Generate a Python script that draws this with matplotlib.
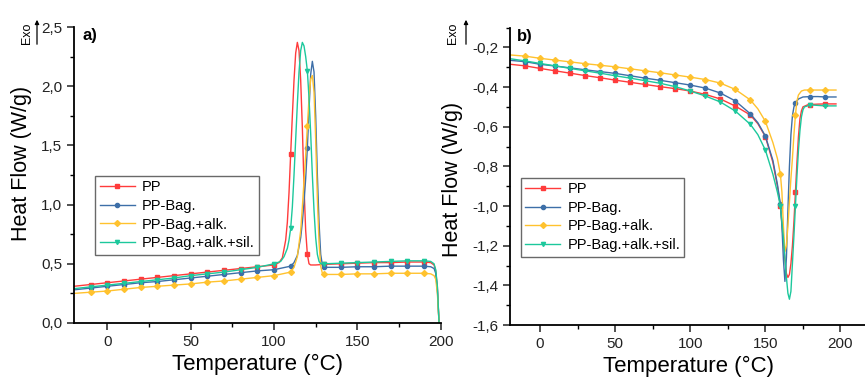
import matplotlib
matplotlib.use("Agg")
import matplotlib.pyplot as plt
from matplotlib.ticker import MultipleLocator, FuncFormatter

plt.rcParams['font.family'] = ['Liberation Sans', 'DejaVu Sans']

etiquetas = ["PP", "PP-Bag.", "PP-Bag.+alk.", "PP-Bag.+alk.+sil."]
colores = ["#ff3b3b", "#3d6fa8", "#ffc22e", "#1cc89c"]
marcadores = ["s", "o", "D", "v"]

# a) enfriamiento (cristalizacion)
t_pp_a = [-20, -10, 0, 10, 20, 30, 40, 50, 60, 70, 80, 90, 100, 103, 105, 107, 108, 109, 110, 111,
          112, 113, 114, 115, 116, 117, 118, 119, 120, 121, 122, 125, 130, 140, 150, 160, 170, 180,
          190, 194, 196, 197, 198, 199]
hf_pp_a = [0.31, 0.325, 0.34, 0.355, 0.37, 0.385, 0.40, 0.415, 0.43, 0.445, 0.46, 0.475, 0.49, 0.51,
           0.55, 0.70, 0.85, 1.10, 1.43, 1.75, 2.05, 2.28, 2.37, 2.30, 2.05, 1.65, 1.15, 0.78, 0.58,
           0.50, 0.49, 0.49, 0.495, 0.50, 0.505, 0.51, 0.51, 0.515, 0.515, 0.51, 0.49, 0.44, 0.30, 0.0]

t_bag_a = [-20, -10, 0, 10, 20, 30, 40, 50, 60, 70, 80, 90, 100, 110, 112, 114, 116, 117, 118, 119,
           120, 121, 122, 123, 124, 125, 126, 127, 128, 129, 130, 140, 150, 160, 170, 180, 190, 194,
           196, 197, 198, 199]
hf_bag_a = [0.28, 0.295, 0.31, 0.325, 0.34, 0.35, 0.365, 0.38, 0.395, 0.41, 0.425, 0.44, 0.45, 0.48,
            0.51, 0.57, 0.72, 0.85, 1.02, 1.22, 1.48, 1.80, 2.10, 2.21, 2.12, 1.75, 1.25, 0.85, 0.58,
            0.49, 0.47, 0.47, 0.475, 0.475, 0.48, 0.48, 0.48, 0.475, 0.46, 0.42, 0.28, 0.0]

t_alk_a = [-20, -10, 0, 10, 20, 30, 40, 50, 60, 70, 80, 90, 100, 110, 112, 114, 116, 117, 118, 119,
           120, 121, 122, 123, 124, 125, 126, 127, 128, 129, 130, 140, 150, 160, 170, 180, 190, 194,
           196, 197, 198, 199]
hf_alk_a = [0.25, 0.26, 0.27, 0.285, 0.30, 0.31, 0.32, 0.33, 0.345, 0.355, 0.37, 0.385, 0.40, 0.43,
            0.47, 0.56, 0.78, 0.98, 1.20, 1.42, 1.66, 1.90, 2.06, 2.09, 1.95, 1.55, 1.05, 0.68, 0.48,
            0.42, 0.41, 0.41, 0.415, 0.415, 0.42, 0.42, 0.42, 0.415, 0.40, 0.37, 0.25, 0.0]

t_sil_a = [-20, -10, 0, 10, 20, 30, 40, 50, 60, 70, 80, 90, 100, 104, 106, 108, 109, 110, 111, 112,
           113, 114, 115, 116, 117, 118, 119, 120, 121, 122, 123, 124, 125, 126, 127, 128, 130, 140,
           150, 160, 170, 180, 190, 194, 196, 197, 198, 199]
hf_sil_a = [0.29, 0.305, 0.32, 0.335, 0.35, 0.365, 0.38, 0.40, 0.415, 0.43, 0.45, 0.47, 0.50, 0.52,
            0.56, 0.63, 0.70, 0.80, 0.98, 1.25, 1.55, 1.85, 2.12, 2.30, 2.37, 2.34, 2.25, 2.13, 1.90,
            1.60, 1.25, 0.95, 0.72, 0.58, 0.52, 0.50, 0.50, 0.505, 0.51, 0.515, 0.52, 0.525, 0.525,
            0.52, 0.50, 0.45, 0.31, 0.0]

# b) calentamiento (fusion)
t_pp_b = [-20, -10, 0, 10, 20, 30, 40, 50, 60, 70, 80, 90, 100, 110, 120, 130, 140, 145, 150, 155,
          158, 160, 162, 163, 164, 165, 166, 167, 168, 169, 170, 171, 172, 173, 174, 175, 178, 180,
          185, 190, 197]
hf_pp_b = [-0.285, -0.293, -0.306, -0.318, -0.330, -0.342, -0.353, -0.365, -0.376, -0.387, -0.398,
           -0.408, -0.420, -0.437, -0.460, -0.496, -0.541, -0.585, -0.650, -0.780, -0.900, -1.000,
           -1.180, -1.270, -1.340, -1.360, -1.345, -1.290, -1.200, -1.080, -0.930, -0.780, -0.650,
           -0.560, -0.520, -0.500, -0.490, -0.488, -0.486, -0.485, -0.485]

t_bag_b = [-20, -10, 0, 10, 20, 30, 40, 50, 60, 70, 80, 90, 100, 110, 120, 130, 140, 145, 150, 155,
           158, 160, 161, 162, 163, 164, 165, 166, 167, 168, 169, 170, 172, 175, 180, 185, 190, 197]
hf_bag_b = [-0.265, -0.272, -0.285, -0.294, -0.303, -0.313, -0.322, -0.331, -0.343, -0.355, -0.366,
            -0.378, -0.390, -0.405, -0.430, -0.470, -0.535, -0.580, -0.647, -0.770, -0.890, -0.990,
            -1.100, -1.270, -1.380, -1.260, -1.020, -0.800, -0.640, -0.545, -0.500, -0.480, -0.460,
            -0.450, -0.448, -0.448, -0.450, -0.450]

t_alk_b = [-20, -10, 0, 10, 20, 30, 40, 50, 60, 70, 80, 90, 100, 110, 120, 130, 140, 145, 150, 155,
           158, 160, 161, 162, 163, 164, 165, 166, 167, 168, 169, 170, 171, 172, 174, 176, 180, 190,
           197]
hf_alk_b = [-0.238, -0.244, -0.255, -0.264, -0.273, -0.282, -0.290, -0.298, -0.308, -0.318, -0.328,
            -0.339, -0.350, -0.362, -0.380, -0.412, -0.465, -0.510, -0.573, -0.680, -0.760, -0.840,
            -0.930, -1.100, -1.230, -1.200, -1.100, -0.980, -0.860, -0.760, -0.640, -0.540, -0.470,
            -0.440, -0.420, -0.415, -0.415, -0.415, -0.415]

t_sil_b = [-20, -10, 0, 10, 20, 30, 40, 50, 60, 70, 80, 90, 100, 110, 120, 130, 140, 145, 150, 155,
           158, 160, 162, 163, 164, 165, 166, 167, 168, 169, 170, 171, 172, 173, 174, 175, 176, 180,
           190, 197]
hf_sil_b = [-0.257, -0.268, -0.281, -0.293, -0.306, -0.318, -0.330, -0.343, -0.355, -0.368, -0.381,
            -0.398, -0.420, -0.445, -0.475, -0.521, -0.588, -0.640, -0.718, -0.840, -0.930, -1.000,
            -1.160, -1.260, -1.360, -1.440, -1.470, -1.430, -1.290, -1.150, -1.000, -0.850, -0.720,
            -0.620, -0.550, -0.515, -0.500, -0.490, -0.495, -0.495]

datos_a = [(t_pp_a, hf_pp_a), (t_bag_a, hf_bag_a), (t_alk_a, hf_alk_a), (t_sil_a, hf_sil_a)]
datos_b = [(t_pp_b, hf_pp_b), (t_bag_b, hf_bag_b), (t_alk_b, hf_alk_b), (t_sil_b, hf_sil_b)]


def coma(v, pos):
    return f"{v:.1f}".replace(".", ",")


def marcas(t):
    # marcador cada 10 grados
    return [i for i, x in enumerate(t) if x % 10 == 0 and -20 < x < 195]


def graficar(ax, datos, legend_pos):
    for (t, hf), lab, col, m in zip(datos, etiquetas, colores, marcadores):
        ax.plot(t, hf, color=col, lw=1.0, marker=m, ms=3, markevery=marcas(t), label=lab)
    for s in ["top", "right"]:
        ax.spines[s].set_visible(False)
    for s in ["left", "bottom"]:
        ax.spines[s].set_linewidth(1.3)
    ax.tick_params(direction="out", length=5, width=1.1, labelsize=11, colors="#222222")
    ax.tick_params(which="minor", direction="out", length=3, width=1.0)
    ax.xaxis.set_major_locator(MultipleLocator(50))
    ax.xaxis.set_minor_locator(MultipleLocator(25))
    ax.yaxis.set_major_formatter(FuncFormatter(coma))
    ax.set_xlabel("Temperature (°C)", fontsize=16)
    ax.set_ylabel("Heat Flow (W/g)", fontsize=15.5)
    leg = ax.legend(loc="upper left", bbox_to_anchor=legend_pos, borderaxespad=0, fontsize=10.5,
                    fancybox=False, edgecolor="#444444", handlelength=2.4, labelspacing=0.32,
                    numpoints=1, borderpad=0.3, handletextpad=0.5)
    leg.get_frame().set_linewidth(1.0)


fig = plt.figure(figsize=(8.65, 3.83), dpi=100)
ax1 = fig.add_axes([0.0855, 0.1567, 0.424, 0.7728])
ax2 = fig.add_axes([0.5896, 0.1514, 0.4116, 0.7766])

graficar(ax1, datos_a, (0.058, 0.497))
ax1.set_xlim(-20, 200)
ax1.set_ylim(0, 2.5)
ax1.yaxis.set_major_locator(MultipleLocator(0.5))
ax1.yaxis.set_minor_locator(MultipleLocator(0.25))
ax1.text(0.022, 0.995, "a)", transform=ax1.transAxes, fontsize=12, fontweight="bold", va="top")

graficar(ax2, datos_b, (0.03, 0.495))
ax2.set_xlim(-20, 217)
ax2.set_ylim(-1.6, -0.1)
ax2.yaxis.set_major_locator(MultipleLocator(0.2))
ax2.yaxis.set_minor_locator(MultipleLocator(0.1))
ax2.text(0.02, 0.995, "b)", transform=ax2.transAxes, fontsize=12, fontweight="bold", va="top")

ax1.yaxis.set_label_coords(-0.115, 0.54)
ax2.yaxis.set_label_coords(-0.132, 0.49)
ax1.xaxis.set_label_coords(0.5, -0.105)
ax2.xaxis.set_label_coords(0.5, -0.105)

# indicador Exo
for xt, xa in [(27, 37), (453, 466)]:
    fig.text(xt / 865, 1 - 33 / 383, "Exo", rotation=90, fontsize=9, ha="center", va="center")
    fig.add_artist(matplotlib.patches.FancyArrowPatch(
        (xa / 865, 1 - 47 / 383), (xa / 865, 1 - 17 / 383), transform=fig.transFigure,
        arrowstyle="-|>", mutation_scale=6, lw=0.9, color="black"))

fig.savefig("out.png", dpi=100)
